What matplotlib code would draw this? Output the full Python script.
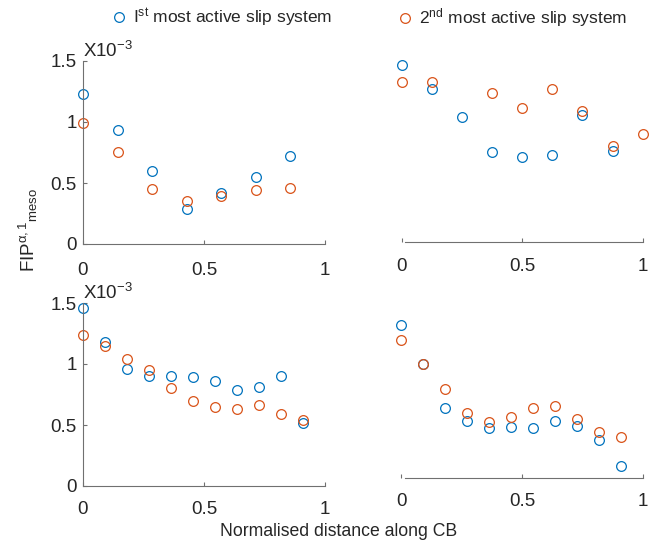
import matplotlib
matplotlib.use('Agg')
from matplotlib import pyplot as plt

plt.rcParams['font.family'] = ['Liberation Sans', 'DejaVu Sans']
plt.rcParams['mathtext.fontset'] = 'custom'
plt.rcParams['mathtext.rm'] = 'Liberation Sans'
plt.rcParams['mathtext.it'] = 'Liberation Sans'
plt.rcParams['text.color'] = '#262626'
plt.rcParams['xtick.labelcolor'] = '#262626'
plt.rcParams['ytick.labelcolor'] = '#262626'

BLUE = '#0072BD'
RED = '#D95319'
AXCOL = '#707070'

# values in units of 1e-3
tl_x = [0, 0.143, 0.286, 0.429, 0.571, 0.714, 0.857]
tl_first = [1.227, 0.933, 0.597, 0.286, 0.415, 0.548, 0.725]
tl_second = [0.993, 0.750, 0.450, 0.349, 0.393, 0.439, 0.458]

tr_x_first = [0, 0.125, 0.25, 0.375, 0.5, 0.625, 0.75, 0.875]
tr_first = [1.451, 1.254, 1.025, 0.735, 0.694, 0.710, 1.038, 0.743]
tr_x_second = [0, 0.125, 0.375, 0.5, 0.625, 0.75, 0.875, 1.0]
tr_second = [1.309, 1.311, 1.216, 1.098, 1.254, 1.074, 0.784, 0.880]

b_x = [0, 0.091, 0.182, 0.273, 0.364, 0.455, 0.545, 0.636, 0.727, 0.818, 0.909]
bl_first = [1.459, 1.177, 0.961, 0.898, 0.898, 0.892, 0.860, 0.788, 0.810, 0.903, 0.520]
bl_second = [1.240, 1.144, 1.043, 0.953, 0.802, 0.698, 0.646, 0.635, 0.660, 0.589, 0.539]
br_first = [1.251, 0.930, 0.572, 0.465, 0.411, 0.413, 0.408, 0.468, 0.424, 0.307, 0.096]
br_second = [1.125, 0.936, 0.725, 0.528, 0.460, 0.498, 0.572, 0.591, 0.482, 0.375, 0.331]

xticks = [0, 0.5, 1]
xticklabels = ['0', '0.5', '1']
yticks = [0, 0.5, 1, 1.5]
yticklabels = ['0', '0.5', '1', '1.5']

W, H = 659, 543
fig = plt.figure(figsize=(W / 100, H / 100), dpi=100)


def make_axes(left, right, bottom, top):
    return fig.add_axes([left / W, 1 - bottom / H, (right - left) / W, (bottom - top) / H])


def style(ax, show_y, xpad):
    ax.set_xlim(0, 1)
    ax.set_ylim(0, 1.5)
    for s in ['top', 'right']:
        ax.spines[s].set_visible(False)
    ax.spines['bottom'].set_color(AXCOL)
    ax.spines['left'].set_color(AXCOL)
    ax.set_xticks(xticks)
    ax.set_xticklabels(xticklabels)
    ax.tick_params(axis='x', direction='in', length=3, color=AXCOL, labelsize=13.5, pad=xpad)
    if show_y:
        ax.set_yticks(yticks)
        ax.set_yticklabels(yticklabels)
        ax.tick_params(axis='y', direction='in', length=3, color=AXCOL, labelsize=13.5, pad=4.5)
        ax.text(0, 1.5, r'X10$^{-3}$', fontsize=13.5, ha='left', va='bottom')
    else:
        ax.spines['left'].set_visible(False)
        ax.spines['bottom'].set_bounds(0.015, 1)
        ax.set_yticks([])


def draw(ax, x1, y1, x2, y2):
    h1, = ax.plot(x1, y1, 'o', mfc='none', mec=BLUE, ms=7, mew=0.9, clip_on=False)
    h2, = ax.plot(x2, y2, 'o', mfc='none', mec=RED, ms=7, mew=0.9, clip_on=False)
    return h1, h2


ax_tl = make_axes(83, 325, 244, 61)
ax_tr = make_axes(401.7, 642.7, 241.7, 58.7)
ax_bl = make_axes(83, 325, 486, 303)
ax_br = make_axes(401.3, 642.7, 477.7, 294.7)

h1, h2 = draw(ax_tl, tl_x, tl_first, tl_x, tl_second)
draw(ax_tr, tr_x_first, tr_first, tr_x_second, tr_second)
draw(ax_bl, b_x, bl_first, b_x, bl_second)
draw(ax_br, b_x, br_first, b_x, br_second)

style(ax_tl, True, 13)
style(ax_tr, False, 12)
style(ax_bl, True, 11)
style(ax_br, False, 11)

fig.text(28 / W, 1 - 230 / H, r'FIP$^{\alpha,1}$$_{\mathrm{meso}}$', rotation=90,
         ha='center', va='center', fontsize=13.5)
fig.text(339 / W, 1 - 536 / H, 'Normalised distance along CB', ha='center', va='baseline',
         fontsize=12.7)

leg_kw = dict(frameon=False, fontsize=12.5, handletextpad=0.3, handlelength=1.0,
              borderaxespad=0, borderpad=0)
fig.legend([h1], [r'I$^{\mathrm{st}}$ most active slip system'], loc='center left',
           bbox_to_anchor=(110 / W, 1 - 18 / H), **leg_kw)
fig.legend([h2], [r'2$^{\mathrm{nd}}$ most active slip system'], loc='center left',
           bbox_to_anchor=(396 / W, 1 - 18 / H), **leg_kw)

fig.savefig('out.png', dpi=100)
